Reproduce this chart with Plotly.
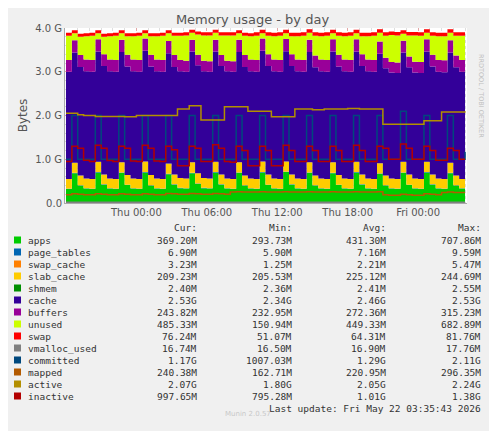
import pandas as pd
import plotly.graph_objects as go

# half-hourly samples, values in GB
times = pd.date_range("2026-05-20 18:00", periods=69, freq="30min")

apps = [.32, .68, .40, .33, .32, .70, .42, .33, .32, .69, .41, .33, .32, .70, .40, .33,
        .32, .66, .42, .34, .33, .68, .44, .34, .33, .70, .42, .33, .32, .69, .40, .33,
        .32, .70, .41, .33, .32, .71, .42, .33, .32, .69, .40, .33, .32, .68, .41, .33,
        .32, .70, .42, .33, .32, .67, .40, .33, .32, .69, .41, .33, .32, .70, .42, .33,
        .32, .68, .40, .33, .37]
page_tables = [.007] * 69
swap_cache = [.002] * 69
slab_cache = [.22, .23, .22, .22, .22, .23, .22, .22, .22, .23, .22, .22, .22, .24, .23, .22,
              .22, .23, .22, .22, .22, .24, .23, .22, .22, .23, .22, .22, .22, .23, .22, .22,
              .22, .24, .23, .22, .22, .23, .22, .22, .22, .23, .22, .22, .22, .24, .22, .22,
              .22, .23, .22, .22, .22, .23, .22, .22, .22, .24, .23, .22, .22, .23, .22, .22,
              .22, .23, .22, .21, .21]
shmem = [.0024] * 69
cache = [2.45, 2.52, 2.48, 2.45, 2.45, 2.52, 2.48, 2.45, 2.45, 2.52, 2.48, 2.45, 2.45, 2.53, 2.48, 2.45,
         2.45, 2.52, 2.46, 2.44, 2.44, 2.53, 2.47, 2.44, 2.44, 2.52, 2.48, 2.45, 2.45, 2.52, 2.48, 2.45,
         2.45, 2.53, 2.48, 2.45, 2.45, 2.52, 2.48, 2.45, 2.45, 2.52, 2.47, 2.45, 2.45, 2.53, 2.48, 2.45,
         2.45, 2.52, 2.48, 2.45, 2.45, 2.50, 2.45, 2.42, 2.42, 2.50, 2.45, 2.42, 2.42, 2.52, 2.47, 2.44,
         2.44, 2.52, 2.47, 2.45, 2.45]
buffers = [.27, .28, .27, .27, .27, .28, .27, .27, .27, .28, .27, .27, .27, .28, .27, .27,
           .27, .28, .27, .26, .25, .27, .24, .24, .24, .27, .25, .24, .24, .28, .27, .27,
           .27, .28, .27, .27, .27, .28, .27, .27, .27, .28, .27, .27, .27, .28, .27, .27,
           .27, .28, .27, .27, .27, .28, .24, .24, .24, .27, .25, .25, .25, .28, .27, .27,
           .27, .28, .27, .27, .27]
unused = [.55, .16, .42, .53, .55, .14, .40, .53, .55, .15, .42, .53, .55, .12, .42, .53,
          .55, .18, .44, .55, .58, .16, .46, .58, .59, .16, .45, .58, .59, .15, .44, .53,
          .55, .12, .42, .53, .55, .13, .41, .53, .55, .16, .45, .53, .55, .14, .43, .53,
          .55, .14, .41, .53, .55, .20, .50, .62, .62, .16, .48, .60, .60, .15, .43, .54,
          .55, .17, .45, .55, .50]
swap = [.07, .07, .07, .07, .07, .07, .07, .07, .07, .07, .07, .07, .07, .07, .07, .07,
        .07, .07, .07, .07, .07, .07, .07, .07, .07, .07, .07, .07, .07, .07, .07, .07,
        .08, .08, .08, .08, .08, .08, .08, .08, .08, .08, .08, .08, .08, .08, .08, .08,
        .08, .08, .08, .08, .08, .08, .08, .08, .08, .08, .08, .08, .08, .08, .08, .08,
        .08, .08, .08, .08, .08]
vmalloc_used = [.017] * 69
committed = [1.0, 2.0, 1.0, 1.0, 1.0, 2.0, 1.0, 1.0, 1.0, 2.0, 1.0, 1.0, 1.0, 2.0, 1.0, 1.0,
             1.0, 2.0, 1.0, 1.0, 1.0, 2.0, 1.0, 1.0, 1.0, 2.0, 1.0, 1.0, 1.0, 2.0, 1.0, 1.0,
             1.0, 2.0, 1.0, 1.0, 1.0, 2.0, 1.0, 1.0, 1.0, 2.0, 1.0, 1.0, 1.0, 2.0, 1.0, 1.0,
             1.0, 2.0, 1.0, 1.0, 1.0, 2.0, 1.0, 1.0, 1.0, 2.1, 1.0, 1.0, 1.0, 2.0, 1.0, 1.0,
             1.0, 2.0, 1.0, 1.0, 1.17]
mapped = [.19, .21, .20, .19, .19, .21, .20, .19, .19, .21, .20, .19, .19, .21, .20, .19,
          .19, .22, .21, .20, .20, .22, .21, .20, .20, .22, .21, .20, .25, .26, .25, .25,
          .25, .26, .25, .25, .25, .26, .25, .25, .25, .26, .25, .25, .25, .26, .25, .25,
          .25, .26, .25, .25, .25, .26, .19, .18, .18, .20, .19, .18, .18, .21, .20, .19,
          .24, .25, .24, .24, .24]
active = [2.05, 2.05, 2.02, 2.0, 2.0, 1.98, 1.98, 1.98, 1.98, 1.98, 1.97, 1.97, 2.0, 2.0, 2.0, 2.0,
          2.0, 2.0, 2.0, 2.15, 2.15, 2.22, 2.22, 1.9, 1.9, 1.9, 1.9, 2.2, 2.2, 2.2, 2.2, 2.1,
          2.1, 2.1, 2.1, 1.97, 1.97, 1.97, 1.97, 2.15, 2.15, 2.15, 2.13, 2.13, 2.15, 2.15, 2.15, 2.15,
          2.16, 2.16, 2.15, 2.15, 2.15, 2.15, 1.8, 1.8, 1.8, 1.8, 1.8, 1.8, 1.8, 1.88, 1.88, 1.88,
          2.08, 2.08, 2.08, 2.08, 2.07]
inactive = [.95, 1.3, 1.25, .98, .95, 1.32, 1.25, .97, .95, 1.3, 1.25, .96, .95, 1.32, 1.25, .96,
            .95, 1.3, 1.22, .85, .85, 1.3, 1.25, .95, .95, 1.33, 1.25, .95, .93, 1.3, 1.2, .85,
            .85, 1.3, 1.2, .85, .85, 1.32, 1.2, .95, .95, 1.3, 1.2, .95, .95, 1.3, 1.2, .95,
            .95, 1.32, 1.2, .95, .95, 1.3, 1.25, 1.0, 1.0, 1.35, 1.25, 1.0, 1.0, 1.3, 1.2, .98,
            .98, 1.25, 1.2, 1.0, 1.0]

stacked = [("apps", apps, "#00CC00"), ("page_tables", page_tables, "#0066B3"),
           ("swap_cache", swap_cache, "#FF8000"), ("slab_cache", slab_cache, "#FFCC00"),
           ("shmem", shmem, "#008F00"), ("cache", cache, "#330099"),
           ("buffers", buffers, "#990099"), ("unused", unused, "#CCFF00"),
           ("swap", swap, "#FF0000")]
lines = [("vmalloc_used", vmalloc_used, "#808080"), ("committed", committed, "#00487D"),
         ("mapped", mapped, "#B35A00"), ("active", active, "#B38F00"),
         ("inactive", inactive, "#B30000")]

stats = [("369.20M", "293.73M", "431.30M", "707.86M"), ("6.90M", "5.90M", "7.16M", "9.59M"),
         ("3.23M", "1.25M", "2.21M", "5.47M"), ("209.23M", "205.53M", "225.12M", "244.69M"),
         ("2.40M", "2.36M", "2.41M", "2.55M"), ("2.53G", "2.34G", "2.46G", "2.53G"),
         ("243.82M", "232.95M", "272.36M", "315.23M"), ("485.33M", "150.94M", "449.33M", "682.89M"),
         ("76.24M", "51.07M", "64.31M", "81.76M"), ("16.74M", "16.50M", "16.90M", "17.76M"),
         ("1.17G", "1007.03M", "1.29G", "2.11G"), ("240.38M", "162.71M", "220.95M", "296.35M"),
         ("2.07G", "1.80G", "2.05G", "2.24G"), ("997.65M", "795.28M", "1.01G", "1.38G")]

fig = go.Figure()
for name, vals, col in stacked:
    fig.add_trace(go.Scatter(x=times, y=vals, name=name, stackgroup="m", mode="lines",
                             line=dict(width=0, color=col, shape="hv"), fillcolor=col))
for name, vals, col in lines:
    fig.add_trace(go.Scatter(x=times, y=vals, name=name, mode="lines",
                             line=dict(width=1.5, color=col, shape="hv")))

# page has an 8px body margin; positions below are in screenshot pixels
OFF = 8
W, H = 497 - OFF, 431 - OFF
L, R, T, B = 65, 467, 28, 203
def px(x):
    return (x - L) / (R - L)
def py(y):
    return (B - y) / (B - T)

mono = "DejaVu Sans Mono"
ann = []
for txt, xr in [("Cur:", 199), ("Min:", 294), ("Avg:", 388), ("Max:", 483)]:
    ann.append(dict(text=txt, x=px(xr), y=py(227), xanchor="right"))
allrows = stacked + lines
for i, ((name, _, col), st) in enumerate(zip(allrows, stats)):
    y = 240 + i * 12
    ann.append(dict(text=name, x=px(26), y=py(y), xanchor="left"))
    for v, xr in zip(st, [199, 294, 388, 483]):
        ann.append(dict(text=v, x=px(xr), y=py(y), xanchor="right"))
    fig.add_shape(type="rect", xref="paper", yref="paper", x0=px(14), x1=px(21),
                  y0=py(y + 3.5), y1=py(y - 3.5), fillcolor=col, line_width=0)
ann.append(dict(text="Last update: Fri May 22 03:35:43 2026", x=px(483), y=py(408), xanchor="right"))
for a in ann:
    fig.add_annotation(xref="paper", yref="paper", yanchor="middle", showarrow=False,
                       font=dict(family=mono, size=9.5, color="#333"), **a)
fig.add_annotation(text="Munin 2.0.57", xref="paper", yref="paper", x=px(248), y=py(420),
                   showarrow=False, font=dict(family="DejaVu Sans", size=7, color="#c8c8c8"))
fig.add_annotation(text="RRDTOOL / TOBI OETIKER", xref="paper", yref="paper", x=px(487), y=py(52),
                   textangle=90, showarrow=False, font=dict(family="DejaVu Sans", size=6.5, color="#c0c0c0"))

fig.update_layout(
    width=W, height=H, margin=dict(l=L - OFF, r=497 - R, t=T - OFF, b=431 - B),
    paper_bgcolor="#f0f0f0", plot_bgcolor="white", showlegend=False,
    title=dict(text="Memory usage - by day", x=0.5, y=1 - 11 / H, xanchor="center", yanchor="middle",
               font=dict(family="DejaVu Sans", size=13, color="#555")),
    font=dict(family="DejaVu Sans", size=10, color="#555"),
)
grid = "rgba(230,120,120,0.55)"
fig.update_xaxes(range=[pd.Timestamp("2026-05-20 17:55"), pd.Timestamp("2026-05-22 04:10")],
                 tickvals=pd.to_datetime(["2026-05-21 00:00", "2026-05-21 06:00", "2026-05-21 12:00",
                                          "2026-05-21 18:00", "2026-05-22 00:00"]),
                 ticktext=["Thu 00:00", "Thu 06:00", "Thu 12:00", "Thu 18:00", "Fri 00:00"],
                 showgrid=True, gridcolor=grid, griddash="dot", gridwidth=1,
                 minor=dict(dtick=3600000, showgrid=True, gridcolor="rgba(200,200,200,0.6)", griddash="dot"),
                 showline=True, linecolor="#aaa", zeroline=False, ticks="")
fig.update_yaxes(range=[0, 4.0], tickvals=[0, 1, 2, 3, 4],
                 ticktext=["0.0", "1.0 G", "2.0 G", "3.0 G", "4.0 G"],
                 title=dict(text="Bytes", standoff=4),
                 showgrid=True, gridcolor=grid, griddash="dot",
                 minor=dict(dtick=0.2, showgrid=True, gridcolor="rgba(200,200,200,0.6)", griddash="dot"),
                 showline=True, linecolor="#aaa", zeroline=False)

fig.write_html("out.html")
